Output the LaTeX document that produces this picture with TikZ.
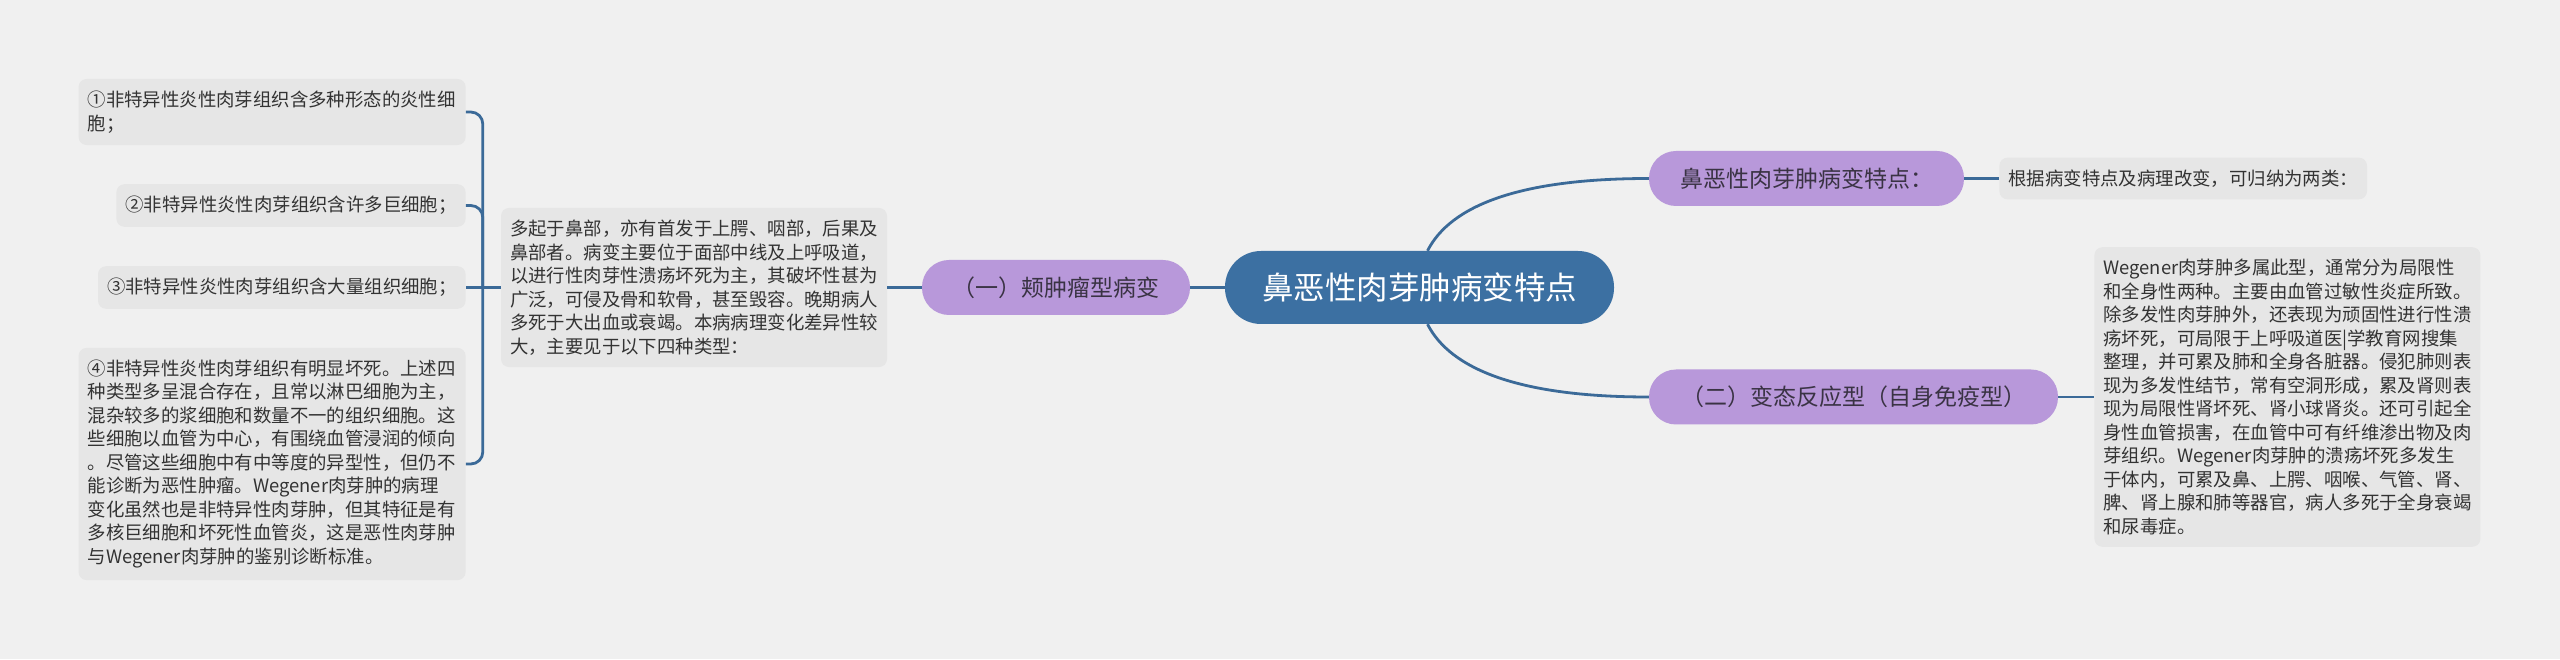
\documentclass[tikz,border=0pt]{standalone}
\usepackage{fontspec}
\setmainfont{Noto Sans CJK SC}
\usepackage{tikz}
\usetikzlibrary{positioning}
\definecolor{bggrey}{HTML}{F0F0F0}
\definecolor{hubblue}{HTML}{3C70A2}
\definecolor{lavender}{HTML}{B898DA}
\definecolor{leafgrey}{HTML}{E6E6E6}
\definecolor{wireblue}{HTML}{3B6A98}
\definecolor{ink}{HTML}{333333}
\definecolor{plumink}{HTML}{3A3344}

\begin{document}
\begin{tikzpicture}[x=1pt,y=1pt,on grid,
  hub/.style={fill=hubblue,text=white,rounded corners=36pt,minimum width=389pt,minimum height=73pt,inner sep=0pt,font=\fontsize{31.5}{36}\selectfont},
  branch/.style={fill=lavender,text=plumink,rounded corners=27pt,minimum height=55pt,inner sep=0pt,font=\fontsize{23}{27}\selectfont},
  leaf/.style={fill=leafgrey,text=ink,rounded corners=8pt,inner xsep=9pt,inner ysep=12pt,minimum height=41pt,align=left,font=\fontsize{18.4}{23.5}\selectfont},
  link/.style={draw=wireblue,line width=2.8pt}]
				\fill[bggrey] (0,0) rectangle (2560,659);
				\useasboundingbox (0,0) rectangle (2560,659);
				% centre and first level
				\node[hub] (m_0) at (1419.5,371.5) {鼻恶性肉芽肿病变特点};
				\node[branch, minimum width=268pt] (l_1) [left=363.5pt of m_0] {（一）颊肿瘤型病变};
				\node[branch, minimum width=315pt] (r_1) [above right=109pt and 387pt of m_0] {鼻恶性肉芽肿病变特点：};
				\node[branch, minimum width=409pt] (r_2) [below right=109.5pt and 434pt of m_0] {（二）变态反应型（自身免疫型）};
				% left side
				\node[leaf, text width=368pt] (l_2) [left=362pt of l_1] {多起于鼻部，亦有首发于上腭、咽部，后果及\\
鼻部者。病变主要位于面部中线及上呼吸道，\\
以进行性肉芽性溃疡坏死为主，其破坏性甚为\\
广泛，可侵及骨和软骨，甚至毁容。晚期病人\\
多死于大出血或衰竭。本病病理变化差异性较\\
大，主要见于以下四种类型：};
				\node[leaf, anchor=east, text width=369pt] (k_1) at ([xshift=-35pt,yshift=175.5pt]l_2.west) {①非特异性炎性肉芽组织含多种形态的炎性细\\胞；};
				\node[leaf, anchor=east] (k_2) at ([xshift=-35pt,yshift=82pt]l_2.west) {②非特异性炎性肉芽组织含许多巨细胞；};
				\node[leaf, anchor=east] (k_3) at ([xshift=-35pt]l_2.west) {③非特异性炎性肉芽组织含大量组织细胞；};
				\node[leaf, anchor=east, text width=369pt] (k_4) at ([xshift=-35pt,yshift=-176.5pt]l_2.west) {④非特异性炎性肉芽组织有明显坏死。上述四\\
种类型多呈混合存在，且常以淋巴细胞为主，\\
混杂较多的浆细胞和数量不一的组织细胞。这\\
些细胞以血管为中心，有围绕血管浸润的倾向\\
。尽管这些细胞中有中等度的异型性，但仍不\\
能诊断为恶性肿瘤。Wegener肉芽肿的病理\\
变化虽然也是非特异性肉芽肿，但其特征是有\\
多核巨细胞和坏死性血管炎，这是恶性肉芽肿\\
与Wegener肉芽肿的鉴别诊断标准。};
				% right side
				\node[leaf, anchor=west] (q_1) at ([xshift=35pt]r_1.east) {根据病变特点及病理改变，可归纳为两类：};
				\node[leaf, anchor=west, text width=368pt] (q_2) at ([xshift=36pt]r_2.east) {Wegener肉芽肿多属此型，通常分为局限性\\
和全身性两种。主要由血管过敏性炎症所致。\\
除多发性肉芽肿外，还表现为顽固性进行性溃\\
疡坏死，可局限于上呼吸道医|学教育网搜集\\
整理，并可累及肺和全身各脏器。侵犯肺则表\\
现为多发性结节，常有空洞形成，累及肾则表\\
现为局限性肾坏死、肾小球肾炎。还可引起全\\
身性血管损害，在血管中可有纤维渗出物及肉\\
芽组织。Wegener肉芽肿的溃疡坏死多发生\\
于体内，可累及鼻、上腭、咽喉、气管、肾、\\
脾、肾上腺和肺等器官，病人多死于全身衰竭\\
和尿毒症。};
				% connectors
				\path[link]
				(m_0) edge (l_1)
				(l_1) edge (l_2)
				(r_1) edge (q_1)
				(r_2) edge (q_2)
				([xshift=8pt]m_0.north) edge [out=63, in=180, out distance=51pt, in distance=129pt] (r_1.west)
				([xshift=8pt]m_0.south) edge [out=-63, in=180, out distance=51pt, in distance=129pt] (r_2.west);
				\draw[link] (l_2.west) -- ++(-18pt,0pt) coordinate (j_0);
				\draw[link] (j_0) -- (k_3.east);
				\foreach \k in {k_1,k_2,k_4}
				\draw[link, rounded corners=12pt] (j_0) |- (\k.east);
			\end{tikzpicture}
\end{document}
